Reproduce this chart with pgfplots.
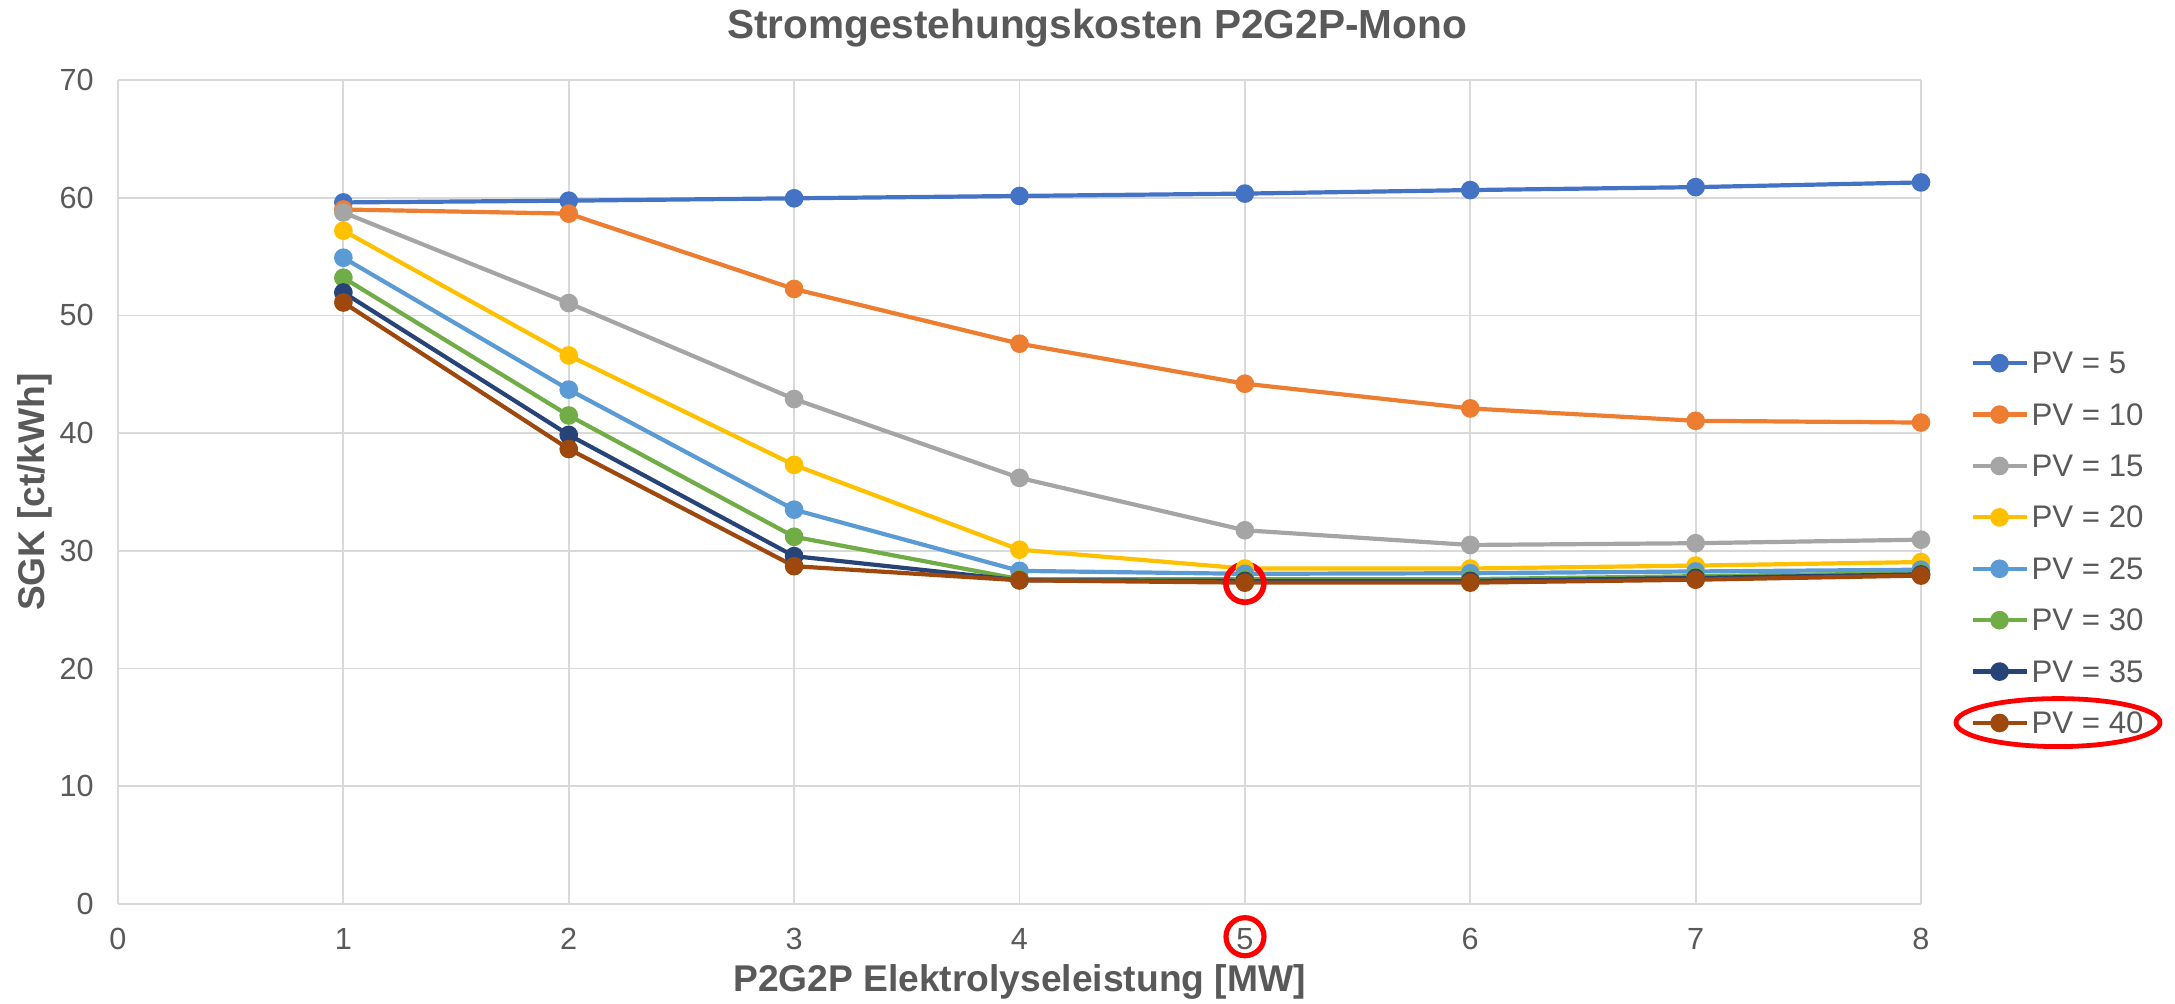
\documentclass[border=0pt]{standalone}
\usepackage{fontspec}
\setmainfont{Liberation Sans}
\usepackage{pgfplots}
\pgfplotsset{compat=1.18}
\definecolor{c1}{HTML}{4472C4}
\definecolor{c2}{HTML}{ED7D31}
\definecolor{c3}{HTML}{A5A5A5}
\definecolor{c4}{HTML}{FFC000}
\definecolor{c5}{HTML}{5B9BD5}
\definecolor{c6}{HTML}{70AD47}
\definecolor{c7}{HTML}{264478}
\definecolor{c8}{HTML}{9E480E}
\definecolor{txt}{HTML}{595959}
\definecolor{grd}{HTML}{D9D9D9}
\begin{document}
\begin{tikzpicture}[x=1pt,y=1pt]
\path[use as bounding box] (0,0) rectangle (1087.5,501.5);
\begin{axis}[
  at={(59pt,49.5pt)}, anchor=south west,
  scale only axis, width=901.5pt, height=412pt,
  xmin=0, xmax=8, ymin=0, ymax=70,
  xtick={0,1,...,8}, ytick={0,10,...,70},
  grid=major, major grid style={grd, line width=0.9pt},
  axis line style={draw=none},
  tick style={draw=none},
  clip=false,
  /pgf/number format/assume math mode=true,
  ticklabel style={font=\fontsize{15.3}{18}\selectfont, text=txt},
  yticklabel style={inner sep=0pt, xshift=-12pt},
  xticklabel style={inner sep=0pt, yshift=-12pt},
  every axis title shift=0pt,
  title={Stromgestehungskosten P2G2P-Mono},
  title style={at={(0.543,1.0506)}, anchor=base, yshift=0pt, inner sep=0pt, font=\bfseries\fontsize{20.3}{24}\selectfont, text=txt},
  xlabel={P2G2P Elektrolyseleistung [MW]},
  xlabel style={at={(0.5,-0.0947)}, anchor=center, inner sep=0pt, font=\bfseries\fontsize{18.6}{22}\selectfont, text=txt},
  ylabel={SGK [ct/kWh]},
  ylabel style={at={(-0.046,0.5)}, anchor=center, inner sep=0pt, font=\bfseries\fontsize{18.6}{22}\selectfont, text=txt},
  legend cell align=left,
  legend style={at={(1.0272,0.438)}, anchor=west, draw=none, fill=none, inner sep=0pt,
    font=\fontsize{15.6}{18}\selectfont, text=txt, column sep=0.5pt, row sep=13.2pt,
    nodes={inner sep=1pt, text height=10.5pt, text depth=0pt}},
  legend image code/.code={\draw[mark repeat=2,mark phase=2] plot coordinates {(0pt,0pt)(13.5pt,0pt)(27pt,0pt)};},
  every axis plot/.append style={line width=2.1pt, mark=*, mark size=3.6pt, mark options={solid}},
]
\addplot[color=c1] coordinates {(1,59.6)(2,59.75)(3,59.95)(4,60.15)(5,60.35)(6,60.65)(7,60.9)(8,61.3)};
\addlegendentry{PV = 5}
\addplot[color=c2] coordinates {(1,59.0)(2,58.65)(3,52.25)(4,47.6)(5,44.2)(6,42.1)(7,41.05)(8,40.9)};
\addlegendentry{PV = 10}
\addplot[color=c3] coordinates {(1,58.75)(2,51.05)(3,42.9)(4,36.2)(5,31.75)(6,30.5)(7,30.65)(8,30.95)};
\addlegendentry{PV = 15}
\addplot[color=c4] coordinates {(1,57.2)(2,46.6)(3,37.3)(4,30.1)(5,28.5)(6,28.5)(7,28.75)(8,29.05)};
\addlegendentry{PV = 20}
\addplot[color=c5] coordinates {(1,54.9)(2,43.7)(3,33.5)(4,28.3)(5,28.05)(6,28.1)(7,28.25)(8,28.4)};
\addlegendentry{PV = 25}
\addplot[color=c6] coordinates {(1,53.2)(2,41.5)(3,31.2)(4,27.6)(5,27.6)(6,27.6)(7,27.85)(8,28.1)};
\addlegendentry{PV = 30}
\addplot[color=c7] coordinates {(1,51.95)(2,39.85)(3,29.55)(4,27.5)(5,27.45)(6,27.45)(7,27.7)(8,28.0)};
\addlegendentry{PV = 35}
\addplot[color=c8] coordinates {(1,51.1)(2,38.65)(3,28.7)(4,27.5)(5,27.3)(6,27.3)(7,27.55)(8,27.9)};
\addlegendentry{PV = 40}
\draw[red, line width=2.8pt] (axis cs:5,27.25) circle[radius=9.5pt];
\end{axis}
\draw[red, line width=2.6pt] (622.5,33.15) circle[radius=9.5pt];
\draw[red, line width=2.4pt] (1029,140.2) ellipse[x radius=51pt, y radius=12pt];
\end{tikzpicture}
\end{document}
